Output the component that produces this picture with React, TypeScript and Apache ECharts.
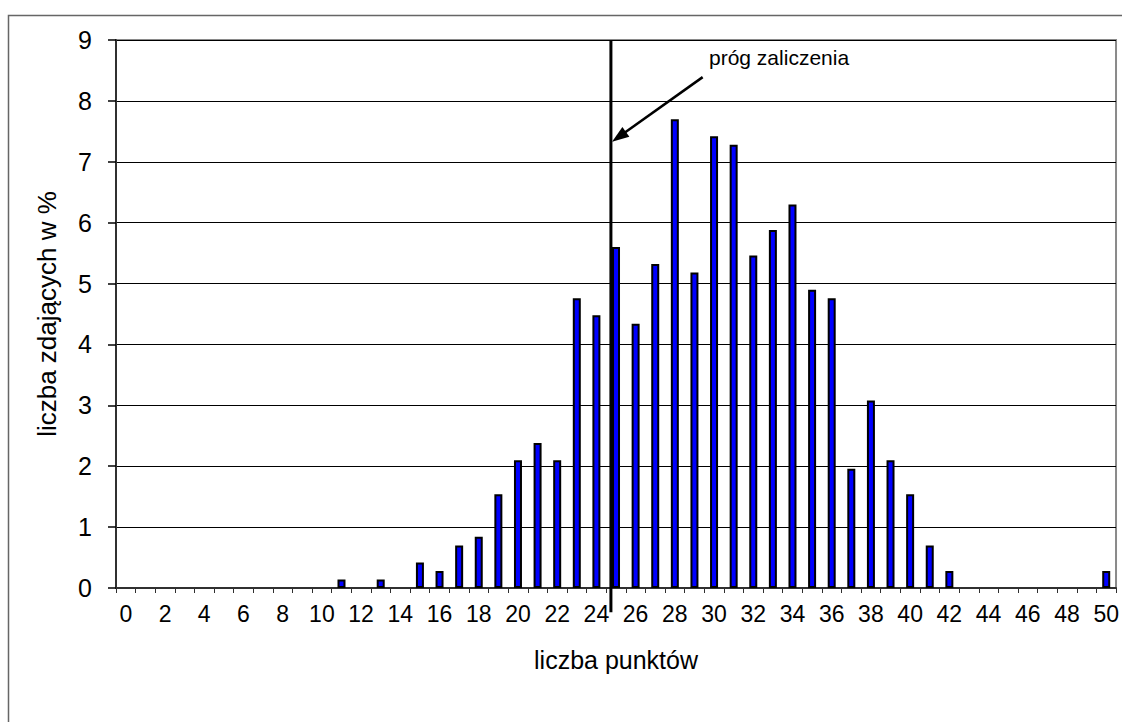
import React, { useEffect, useRef } from "react";
import * as echarts from "echarts";

const categories: string[] = Array.from({ length: 51 }, (_, i) => String(i));
const percentValues: number[] = [
  0, 0, 0, 0, 0, 0, 0, 0, 0, 0,
  0, 0.14, 0, 0.14, 0, 0.42, 0.28, 0.7, 0.84, 1.54,
  2.1, 2.38, 2.1, 4.76, 4.48, 5.6, 4.34, 5.32, 7.7, 5.18,
  7.42, 7.28, 5.46, 5.88, 6.3, 4.9, 4.76, 1.96, 3.08, 2.1,
  1.54, 0.7, 0.28, 0, 0, 0, 0, 0, 0, 0,
  0.28,
];
const thresholdLine: number[][] = [
  [24.74, 9],
  [24.74, -0.4],
];
const arrowStart: number[] = [29.42, 8.39];
const arrowEnd: number[] = [25.15, 7.41];
const annotationText = "próg zaliczenia";
const xTitle = "liczba punktów";
const yTitle = "liczba zdających w %";

const FONT = "'Liberation Sans', Arial, sans-serif";

export default function App() {
  const ref = useRef<HTMLDivElement>(null);
  useEffect(() => {
    if (!ref.current) return;
    const chart = echarts.init(ref.current, undefined, { renderer: "svg" });
    chart.setOption({
      animation: false,
      backgroundColor: "#ffffff",
      textStyle: { fontFamily: FONT },
      grid: {
        left: 116,
        right: 5,
        top: 40,
        bottom: 134,
        show: true,
        borderColor: "#8a8a8a",
        borderWidth: 2,
        backgroundColor: "transparent",
      },
      xAxis: [
        {
          type: "category",
          data: categories,
          boundaryGap: true,
          name: xTitle,
          nameLocation: "middle",
          nameGap: 59,
          nameTextStyle: { fontSize: 25, color: "#000", fontFamily: FONT },
          axisLine: { lineStyle: { color: "#303030", width: 2 } },
          axisTick: { show: true, interval: 0, length: 5, lineStyle: { color: "#303030", width: 1 } },
          axisLabel: { interval: 1, fontSize: 23, color: "#000", margin: 14, fontFamily: FONT },
          splitLine: { show: false },
        },
        {
          type: "value",
          min: -0.5,
          max: 50.5,
          show: false,
        },
      ],
      yAxis: {
        type: "value",
        min: 0,
        max: 9,
        interval: 1,
        name: yTitle,
        nameLocation: "middle",
        nameGap: 56,
        nameRotate: 90,
        nameTextStyle: { fontSize: 26, color: "#000", fontFamily: FONT },
        axisLine: { show: true, onZero: false, lineStyle: { color: "#303030", width: 2 } },
        axisTick: { show: true, length: 8, lineStyle: { color: "#000", width: 1.5 } },
        axisLabel: { fontSize: 25, color: "#000", margin: 24, fontFamily: FONT },
        splitLine: { show: true, lineStyle: { color: "#000", width: 1 } },
      },
      series: [
        {
          type: "bar",
          data: percentValues.map((v) => (v === 0 ? "-" : v)),
          barWidth: 8,
          itemStyle: { color: "#0000ff", borderColor: "#000", borderWidth: 2 },
          z: 3,
        },
        {
          type: "line",
          xAxisIndex: 1,
          data: thresholdLine,
          symbol: "none",
          clip: false,
          lineStyle: { color: "#000", width: 3 },
          z: 5,
          markLine: {
            silent: true,
            symbol: ["none", "triangle"],
            symbolSize: [12, 17],
            label: { show: false },
            lineStyle: { color: "#000", width: 2.5, type: "solid" },
            data: [
              [
                { coord: arrowStart, symbol: "none" },
                { coord: arrowEnd, symbol: "triangle" },
              ],
            ],
          },
        },
      ],
      graphic: [
        {
          type: "rect",
          shape: { x: 8.5, y: 15.5, width: 1300, height: 900 },
          style: { fill: "none", stroke: "#666", lineWidth: 1.5 },
          silent: true,
          z: -1,
        },
        {
          type: "text",
          left: 709,
          top: 47,
          style: { text: annotationText, fontSize: 21, fill: "#000", fontFamily: FONT },
        },
      ],
    });
    return () => chart.dispose();
  }, []);
  return (
    <div
      ref={ref}
      style={{ position: "fixed", left: 0, top: 0, width: 1122, height: 722 }}
    />
  );
}
